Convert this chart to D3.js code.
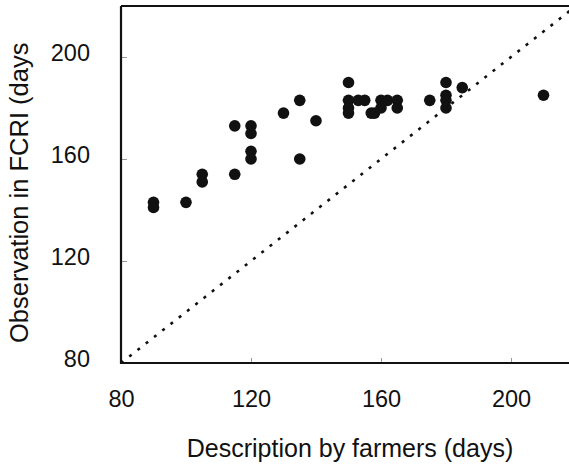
<!DOCTYPE html>
<html>
<head>
<meta charset="utf-8">
<script src="https://cdn.jsdelivr.net/npm/d3@7"></script>
<style>
  body { margin: 0; background: #fff; }
  text { font-family: Arial, "Liberation Sans", sans-serif; fill: #111; }
</style>
</head>
<body>
<div id="chart"></div>
<script>
// days described by farmers vs observed in FCRI
var farmers  = [90, 90, 100, 105, 105, 115, 115, 120, 120, 120, 120, 130, 135, 135, 140,
                150, 150, 150, 150, 153, 155, 157, 158, 160, 160, 162, 165, 165,
                175, 180, 180, 180, 180, 185, 210];
var observed = [143, 141, 143, 154, 151, 154, 173, 173, 170, 163, 160, 178, 183, 160, 175,
                190, 183, 180, 178, 183, 183, 178, 178, 183, 180, 183, 183, 180,
                183, 190, 185, 183, 180, 188, 185];
var xTicks = [80, 120, 160, 200];
var yTicks = [80, 120, 160, 200];

var width = 569;
var height = 469;

var svg = d3.select("#chart")
    .append("svg")
      .attr("width", width)
      .attr("height", height);

var x = d3.scaleLinear()
      .domain([80, 220])
      .range([121, 576]);

var y = d3.scaleLinear()
      .domain([80, 220])
      .range([363, 6]);

// 1:1 line
svg.append("line")
    .attr("x1", x(80))
    .attr("y1", y(80))
    .attr("x2", x(220))
    .attr("y2", y(220))
    .style("stroke", "#111")
    .style("stroke-width", 2.6)
    .style("stroke-dasharray", "3,7.5");

svg.selectAll("circle")
    .data(farmers)
    .enter()
    .append("circle")
      .attr("cx", function(d) { return x(d); })
      .attr("cy", function(d, i) { return y(observed[i]); })
      .attr("r", 5.8)
      .style("fill", "#111");

var xAxis = svg.append("g")
    .attr("transform", "translate(0," + y(80) + ")")
    .call(d3.axisBottom(x).tickValues(xTicks).tickSizeInner(-5).tickSizeOuter(0).tickPadding(27));
xAxis.select(".domain").remove();
xAxis.selectAll("line").style("stroke", "#999");
xAxis.selectAll("text").style("font-size", "23.5px").style("fill", "#111");

var yAxis = svg.append("g")
    .attr("transform", "translate(" + x(80) + ",0)")
    .call(d3.axisLeft(y).tickValues(yTicks).tickSizeInner(-6).tickSizeOuter(0).tickPadding(31));
yAxis.select(".domain").remove();
yAxis.selectAll("line").style("stroke", "#999");
yAxis.selectAll("text").style("font-size", "23.5px").style("fill", "#111").attr("dy", "0.15em");

// frame
svg.append("path")
    .attr("d", "M" + x(80) + "," + y(220) + "L" + x(80) + "," + y(80) + "L" + width + "," + y(80)
         + "M" + x(80) + "," + y(220) + "L" + width + "," + y(220))
    .style("fill", "none")
    .style("stroke", "#111")
    .style("stroke-width", 2.2);

svg.append("text")
    .attr("x", 350)
    .attr("y", 457)
    .attr("text-anchor", "middle")
    .style("font-size", "25px")
    .text("Description by farmers (days)");

svg.append("text")
    .attr("transform", "translate(28,343) rotate(-90)")
    .attr("text-anchor", "start")
    .style("font-size", "25.5px")
    .text("Observation in FCRI (days");
</script>
</body>
</html>
